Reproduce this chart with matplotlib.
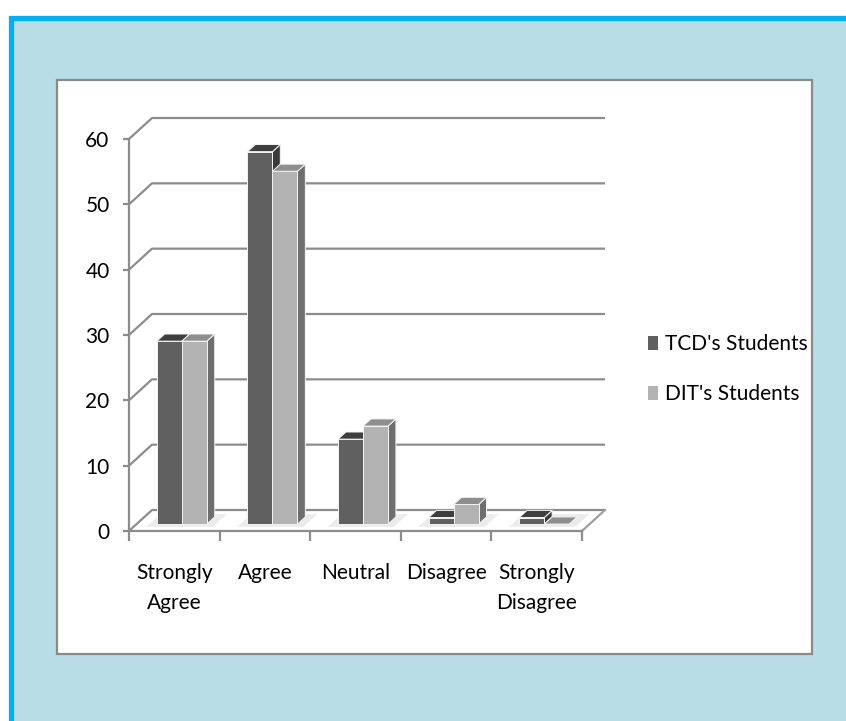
import matplotlib
matplotlib.use("Agg")
import matplotlib.pyplot as plt
from matplotlib.patches import Polygon, Rectangle

plt.rcParams['font.family'] = ['Lato', 'DejaVu Sans']

categories = ["Strongly\nAgree", "Agree", "Neutral", "Disagree", "Strongly\nDisagree"]
series_names = ["TCD's Students", "DIT's Students"]
tcd = [28, 57, 13, 1, 1]
dit = [28, 54, 15, 3, 0]
yticks = [0, 10, 20, 30, 40, 50, 60]

W, H = 846, 721
FS = 15
fig = plt.figure(figsize=(W / 100, H / 100), dpi=100, facecolor='white')

# outer light-blue panel with blue border
fig.patches.append(Rectangle((10.5 / W, -0.05), 1.1, 1 - 18.5 / H + 0.05,
                             transform=fig.transFigure, facecolor='#b8dde6',
                             edgecolor='#00b0f0', linewidth=3.8, zorder=-3))
# inner white chart area
fig.patches.append(Rectangle((57 / W, 1 - 654 / H), (812 - 57) / W, (654 - 80) / H,
                             transform=fig.transFigure, facecolor='white',
                             edgecolor='#8a8a8a', linewidth=1.6, zorder=-2))

# axes geometry (front plane)
ppx = 90.6
ppy = 392 / 60
xmax, ymax = 5.3, 64
ax = fig.add_axes([129 / W, (H - 531) / H, xmax * ppx / W, ymax * ppy / H])
ax.set_xlim(0, xmax)
ax.set_ylim(0, ymax)
ax.patch.set_alpha(0)

DX = 23 / ppx
DY = 21 / ppy
f1, f2 = 0.33, 0.67
n = len(categories)

grid_c = '#8c8c8c'
for v in yticks:
    ax.plot([0, DX, n + DX], [v, v + DY, v + DY], color=grid_c, lw=1.6,
            solid_capstyle='butt', zorder=1)
ax.plot([n, n + DX], [0, DY], color='#a0a0a0', lw=1.6, zorder=1)

for s in ['top', 'right']:
    ax.spines[s].set_visible(False)
for s in ['left', 'bottom']:
    ax.spines[s].set_color(grid_c)
    ax.spines[s].set_linewidth(1.6)
ax.spines['left'].set_bounds(0, 60)
ax.spines['bottom'].set_bounds(0, n)

ax.set_yticks(yticks)
ax.set_yticklabels([str(v) for v in yticks])
ax.tick_params(axis='y', direction='out', length=4, width=1.6, color=grid_c,
               labelsize=FS, pad=10)
ax.set_xticks(range(n + 1))
ax.set_xticklabels([])
ax.set_xticks([i + 0.5 for i in range(n)], minor=True)
ax.set_xticklabels(categories, minor=True, linespacing=1.65)
ax.tick_params(axis='x', which='major', direction='out', length=7, width=1.6, color=grid_c)
ax.tick_params(axis='x', which='minor', length=0, labelsize=FS, pad=23)

# 3D-looking bars
w = 0.276
off = (1 - 2 * w) / 2
ox, oy = f1 * DX, f1 * DY
bx, by = (f2 - f1) * DX, (f2 - f1) * DY
styles = [
    dict(front='#606060', top='#3e3e3e', side='#3a3a3a'),
    dict(front='#b3b3b3', top='#8e8e8e', side='#6e6e6e'),
]
ec = '#f4f4f4'

# soft floor shadows under each bar pair
for i in range(n):
    sx0 = i + off - 0.08
    sx1 = i + off + 2 * w + 0.1
    d0, d1 = 0.2, 0.8
    ax.add_patch(Polygon([(sx0 + d0 * DX, d0 * DY), (sx1 + d0 * DX, d0 * DY),
                          (sx1 + d1 * DX, d1 * DY), (sx0 + d1 * DX, d1 * DY)],
                         closed=True, facecolor='#ebebeb', edgecolor='none', zorder=2))

z = 3
for i in range(n):
    for j, vals in enumerate([tcd, dit]):
        v = vals[i]
        st = styles[j]
        x0 = i + off + j * w + ox
        x1 = x0 + w
        side = Polygon([(x1, oy), (x1 + bx, oy + by), (x1 + bx, v + oy + by), (x1, v + oy)],
                       closed=True, facecolor=st['side'], edgecolor=ec, lw=0.7, zorder=z)
        ax.add_patch(side)
        ax.bar(x0, v, width=w, bottom=oy, align='edge', color=st['front'],
               edgecolor=ec, linewidth=0.7, zorder=z + 0.1)
        top = Polygon([(x0, v + oy), (x1, v + oy), (x1 + bx, v + oy + by), (x0 + bx, v + oy + by)],
                      closed=True, facecolor=st['top'], edgecolor=ec, lw=0.7, zorder=z + 0.2)
        ax.add_patch(top)
        z += 1

handles = [Rectangle((0, 0), 1, 1, facecolor=styles[k]['front'], edgecolor='none')
           for k in range(2)]
fig.legend(handles, series_names, loc='center left',
           bbox_to_anchor=(629 / W, 1 - 369 / H), frameon=False, fontsize=FS,
           handlelength=0.48, handleheight=0.65, handletextpad=0.35, labelspacing=1.45)

fig.savefig('out.png', dpi=100, facecolor='white')
